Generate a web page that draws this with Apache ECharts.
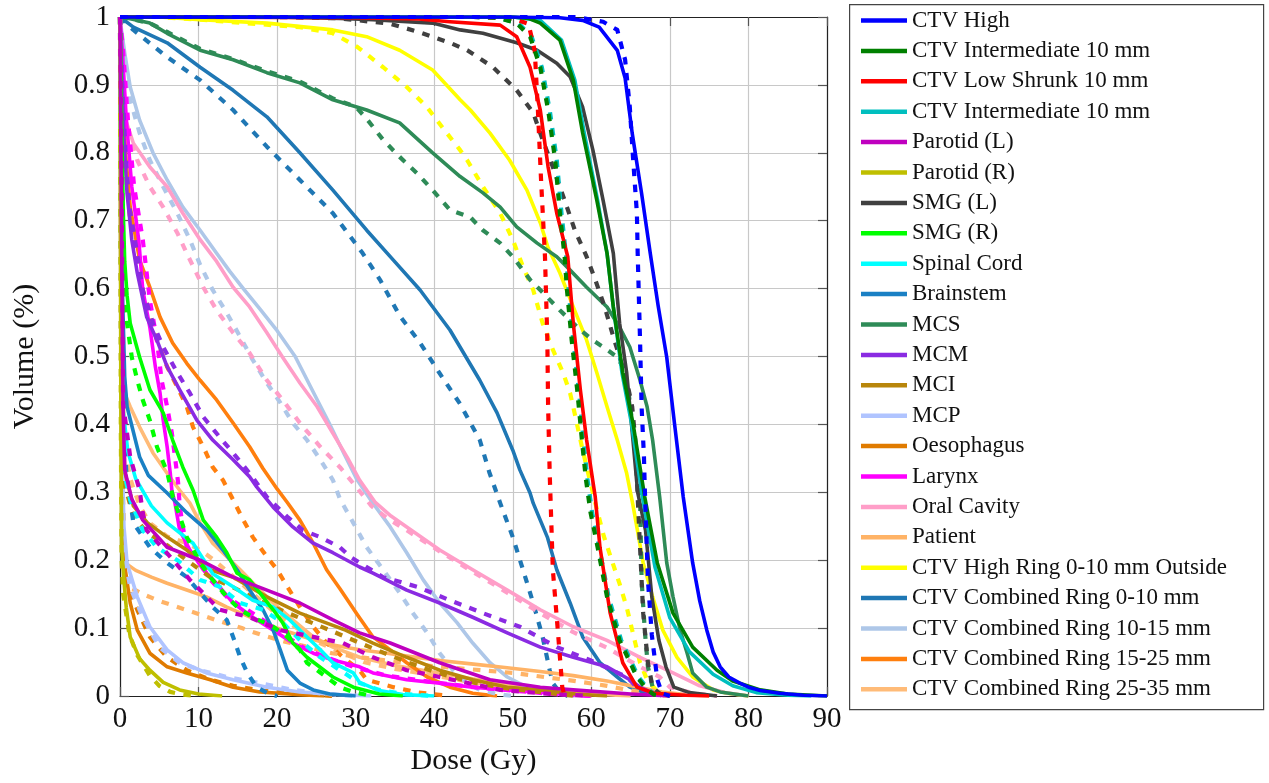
<!DOCTYPE html>
<html>
<head>
<meta charset="utf-8">
<title>Dose–volume histogram</title>
<script src="https://cdn.jsdelivr.net/npm/echarts@6/dist/echarts.min.js"></script>
<style>
  html, body { margin: 0; padding: 0; background: #fff; }
  #chart { width: 1269px; height: 783px; }
</style>
</head>
<body>
<div id="chart"></div>
<script>
// Cumulative DVH curves: [dose (Gy), volume fraction]. Solid = plan A, dashed = plan B.
const xTicks = [0, 10, 20, 30, 40, 50, 60, 70, 80, 90];
const yTicks = [0, 0.1, 0.2, 0.3, 0.4, 0.5, 0.6, 0.7, 0.8, 0.9, 1];

const structureNames = [
  'CTV High', 'CTV Intermediate 10 mm', 'CTV Low Shrunk 10 mm', 'CTV Intermediate 10 mm\u00a0',
  'Parotid (L)', 'Parotid (R)', 'SMG (L)', 'SMG (R)', 'Spinal Cord', 'Brainstem',
  'MCS', 'MCM', 'MCI', 'MCP', 'Oesophagus', 'Larynx', 'Oral Cavity', 'Patient',
  'CTV High Ring 0-10 mm Outside', 'CTV Combined Ring 0-10 mm', 'CTV Combined Ring 10-15 mm',
  'CTV Combined Ring 15-25 mm', 'CTV Combined Ring 25-35 mm'
];

const structureColors = [
  '#0000ff', '#008000', '#ff0000', '#00bfbf',
  '#bf00bf', '#bfbf00', '#404040', '#00ff00', '#00ffff', '#1a80c4',
  '#2e8b57', '#8a2be2', '#b8860b', '#b0c4ff', '#e07b00', '#ff00ff', '#ff9ec8', '#ffb366',
  '#ffff00', '#1f77b4', '#aec7e8', '#ff7f0e', '#ffbb78'
];

const ctvHigh = [[0,1],[50,1],[56,0.999],[58.9,0.995],[61,0.985],[63.3,0.951],[64.3,0.91],[65.2,0.829],[66.4,0.74],[67.5,0.652],[68.5,0.575],[69.6,0.499],[70.6,0.4],[71.7,0.293],[72.9,0.196],[73.8,0.14],[74.7,0.097],[75.5,0.065],[76.4,0.043],[77.5,0.028],[78.9,0.019],[80,0.013],[81.5,0.008],[84,0.004],[87,0.001],[90,0]];
const ctvHighB = [[0,1],[58,1],[61.5,0.993],[63.3,0.981],[64.3,0.937],[64.9,0.867],[65.3,0.794],[65.8,0.711],[65.9,0.652],[66.2,0.524],[66.4,0.426],[66.7,0.352],[66.8,0.308],[67.2,0.171],[67.7,0.09],[68.4,0.024],[69,0.004],[70,0]];

const ctvInt = [[0,1],[50,1],[52,0.998],[53.5,0.991],[56,0.966],[57.7,0.907],[58.9,0.829],[60.7,0.73],[62,0.652],[62.8,0.573],[64,0.476],[65.3,0.402],[66.8,0.293],[68.4,0.196],[70.4,0.122],[72.9,0.072],[76,0.038],[78,0.022],[81.5,0.009],[85,0.003],[90,0]];
const ctvIntB = [[0,1],[45,1],[48,0.999],[50.5,0.991],[52.2,0.971],[53.5,0.926],[54.5,0.863],[55.4,0.789],[56,0.711],[56.6,0.647],[56.9,0.598],[57.5,0.524],[58.2,0.451],[58.8,0.377],[59.3,0.32],[59.9,0.27],[60.8,0.219],[62,0.146],[63.6,0.082],[65.8,0.028],[67.1,0.009],[68,0.002],[69,0]];

const ctvLow = [[0,1],[30,0.999],[38,0.997],[42,0.993],[48.4,0.988],[50.5,0.971],[52.2,0.926],[53.5,0.863],[54.5,0.779],[55.6,0.711],[57,0.647],[57.7,0.549],[58.6,0.451],[59.4,0.377],[60.5,0.293],[61.1,0.219],[62.4,0.122],[64,0.049],[65.8,0.013],[68,0.004],[72,0.001],[75,0]];
const ctvLowB = [[0,1],[45,1],[50,0.998],[52,0.99],[52.8,0.95],[53.2,0.863],[53.6,0.76],[54.1,0.647],[54.4,0.524],[54.5,0.426],[54.7,0.328],[55.1,0.186],[55.8,0.087],[56.3,0.013],[56.6,0]];

const ctvInt2 = [[0,1],[50,1],[53.5,0.995],[56.2,0.966],[57.9,0.907],[59.1,0.829],[60.8,0.73],[62,0.652],[62.8,0.573],[63.9,0.476],[65.1,0.402],[66.5,0.293],[68.1,0.19],[70,0.115],[72.5,0.065],[75.5,0.032],[78,0.015],[81,0.005],[85,0.001],[88,0]];
const ctvInt2B = [[0,1],[45,1],[48.2,0.999],[50.7,0.991],[52.4,0.971],[53.7,0.926],[54.7,0.863],[55.6,0.789],[56.2,0.711],[56.8,0.647],[57.1,0.598],[57.7,0.524],[58.4,0.451],[59,0.377],[59.5,0.32],[60.1,0.27],[61,0.219],[62.2,0.146],[63.8,0.082],[66,0.028],[67.3,0.009],[68.2,0.002],[69.2,0]];

const parotidL = [[0,1],[0.1,0.85],[0.25,0.6],[0.4,0.42],[0.6,0.333],[1.5,0.29],[2.9,0.259],[6,0.219],[10.2,0.2],[14.4,0.175],[18.7,0.156],[22.9,0.137],[27.1,0.112],[30.5,0.093],[34.4,0.078],[40.7,0.049],[47.1,0.024],[53.5,0.013],[57.7,0.009],[65,0.003],[70,0]];
const parotidLB = [[0,1],[0.15,0.85],[0.3,0.6],[0.4,0.43],[1.3,0.352],[2.5,0.303],[2.9,0.27],[3.4,0.244],[6.4,0.205],[8.9,0.171],[12.7,0.127],[16.5,0.116],[20.4,0.097],[24.6,0.087],[28.4,0.078],[32.2,0.057],[36.5,0.038],[40.7,0.028],[48.4,0.009],[54.7,0.003],[60,0]];

const parotidR = [[0,1],[0.1,0.45],[0.2,0.22],[0.5,0.17],[0.8,0.13],[1.3,0.087],[2.5,0.055],[3.8,0.038],[5.5,0.02],[7.6,0.009],[10,0.003],[13,0]];
const parotidRB = [[0,1],[0.1,0.4],[0.2,0.2],[0.4,0.15],[1.2,0.09],[2.2,0.06],[3.8,0.03],[5,0.015],[6.4,0.006],[8,0.002],[10,0]];

const smgL = [[0,1],[20,1],[28,0.998],[32.2,0.996],[39.8,0.991],[43.3,0.981],[46.2,0.976],[50.5,0.962],[53.1,0.951],[55.6,0.932],[57.3,0.912],[58.9,0.867],[60.2,0.804],[61.5,0.73],[62.8,0.652],[63.6,0.549],[64.5,0.476],[65.3,0.377],[65.9,0.3],[66.9,0.244],[67.7,0.146],[68.6,0.082],[69.5,0.043],[70.5,0.013],[72.5,0.005],[76,0]];
const smgLB = [[0,1],[20,1],[28,0.998],[34.4,0.99],[38,0.978],[42,0.962],[44.2,0.951],[47.5,0.926],[50.5,0.892],[52.6,0.859],[53.8,0.819],[55.1,0.779],[56.6,0.73],[57.9,0.686],[59.4,0.647],[60.5,0.613],[61.7,0.573],[62.8,0.529],[63.6,0.499],[64.5,0.465],[65.2,0.426],[65.6,0.377],[65.9,0.293],[66.2,0.219],[66.6,0.122],[67.2,0.049],[67.8,0.013],[69,0]];

const smgR = [[0,1],[0.15,0.9],[0.3,0.78],[0.45,0.7],[0.6,0.64],[0.9,0.59],[1.3,0.549],[2.5,0.499],[3.8,0.451],[5.5,0.417],[6.7,0.377],[8,0.337],[9.3,0.303],[10.6,0.259],[12.3,0.234],[13.6,0.211],[14.9,0.181],[16.5,0.171],[18.2,0.146],[19.5,0.127],[20.7,0.108],[22,0.078],[23.8,0.057],[27.1,0.028],[29.7,0.013],[33,0.003],[36,0]];
const smgRB = [[0,1],[0.15,0.88],[0.3,0.72],[0.5,0.62],[0.9,0.549],[1.5,0.499],[2.2,0.465],[2.9,0.436],[3.8,0.406],[4.7,0.367],[6,0.33],[6.8,0.29],[7.6,0.265],[8.5,0.234],[10.2,0.196],[11.5,0.175],[13.6,0.146],[15.3,0.127],[16.9,0.116],[19.5,0.102],[21.3,0.087],[22.9,0.068],[23.8,0.049],[25.1,0.038],[28,0.013],[29.7,0.006],[32,0]];

const spinalCord = [[0,1],[0.1,0.75],[0.2,0.55],[0.4,0.42],[1,0.36],[2,0.32],[4,0.28],[6,0.255],[9.3,0.225],[11.8,0.18],[14.4,0.161],[16.9,0.141],[19.5,0.131],[21.6,0.112],[23.8,0.087],[25.5,0.068],[27.1,0.049],[29.7,0.034],[30.5,0.02],[33,0.008],[36,0.002],[40,0]];
const spinalCordB = [[0,1],[0.1,0.7],[0.2,0.5],[0.5,0.33],[1.3,0.289],[2.9,0.244],[4.7,0.219],[7.3,0.2],[10.2,0.171],[12.7,0.161],[15.3,0.137],[18.2,0.127],[20.7,0.108],[23.3,0.078],[25.5,0.057],[28,0.038],[30.5,0.019],[33,0.009],[36,0.003],[40,0]];

const brainstem = [[0,1],[0.1,0.8],[0.3,0.6],[0.6,0.47],[0.9,0.426],[2.5,0.352],[3.6,0.325],[6,0.299],[8.5,0.27],[11.1,0.244],[13.1,0.215],[14.9,0.186],[16.5,0.156],[18.2,0.127],[19.5,0.097],[20.4,0.068],[21.3,0.038],[22.9,0.019],[24.6,0.009],[26.7,0.003],[30,0]];
const brainstemB = [[0,1],[0.1,0.78],[0.2,0.6],[0.4,0.42],[0.8,0.33],[1.7,0.255],[3.8,0.219],[6,0.196],[8.5,0.175],[10.2,0.152],[11.8,0.131],[13.6,0.112],[14.4,0.087],[15.3,0.057],[16.2,0.034],[17.4,0.013],[19,0.003],[20,0]];

const mcs = [[0,1],[1,0.998],[3.8,0.991],[6,0.976],[10.2,0.951],[14.4,0.937],[18.7,0.918],[22.9,0.903],[27.1,0.878],[31.4,0.863],[35.6,0.844],[39.8,0.8],[43.3,0.765],[46.2,0.741],[48.4,0.72],[50.5,0.691],[53.1,0.667],[55.6,0.647],[56.9,0.632],[59.4,0.602],[62,0.573],[63.6,0.543],[64.9,0.514],[66.2,0.465],[67.1,0.426],[67.8,0.377],[68.7,0.293],[69.6,0.196],[70.4,0.146],[71.3,0.097],[72.2,0.063],[72.9,0.034],[74.7,0.013],[76.4,0.006],[80,0]];
const mcsB = [[0,1],[1,0.998],[3.8,0.991],[6,0.978],[10.2,0.953],[14.4,0.938],[18.7,0.92],[22.9,0.905],[27.1,0.88],[30,0.868],[31.4,0.85],[33.5,0.819],[35.6,0.794],[37.8,0.77],[39.8,0.745],[42,0.716],[44.6,0.705],[46.2,0.686],[48.4,0.667],[50,0.647],[52.2,0.613],[53.5,0.598],[56,0.568],[58.6,0.539],[60.2,0.524],[62,0.51],[63.3,0.499],[64,0.485],[64.7,0.451],[65.2,0.402],[65.8,0.337],[66.2,0.293],[66.4,0.171],[66.8,0.097],[67.2,0.043],[67.8,0.013],[69,0]];

const mcm = [[0,1],[0.2,0.93],[0.5,0.82],[0.9,0.74],[1.5,0.672],[2.2,0.623],[3.4,0.558],[4.7,0.524],[6,0.485],[7.6,0.451],[9.8,0.406],[11.8,0.377],[14.4,0.348],[16.5,0.323],[17.4,0.308],[19.5,0.278],[22,0.249],[24.6,0.225],[27.1,0.211],[30.5,0.19],[32.2,0.181],[36.5,0.156],[40.7,0.137],[44.9,0.116],[49.3,0.093],[53.5,0.072],[57.7,0.057],[62,0.043],[64.9,0.024],[66.2,0.013],[67.5,0.006],[70,0]];
const mcmB = [[0,1],[0.3,0.9],[0.7,0.8],[1.2,0.72],[1.9,0.672],[2.9,0.598],[4.2,0.549],[5.5,0.514],[7.3,0.476],[8.9,0.446],[10.6,0.411],[12.7,0.381],[14.4,0.358],[16.5,0.328],[18.7,0.293],[21.3,0.264],[23.3,0.244],[25.5,0.234],[28,0.219],[29.3,0.205],[33.5,0.175],[37.8,0.161],[42,0.141],[46.2,0.122],[50.9,0.102],[55.6,0.072],[59.8,0.053],[64.5,0.028],[65.8,0.013],[68,0.003],[70,0]];

const mci = [[0,1],[0.15,0.75],[0.3,0.5],[0.6,0.33],[1.7,0.28],[3.5,0.255],[6,0.234],[8.5,0.215],[11.5,0.186],[14.4,0.175],[18.7,0.146],[22.9,0.122],[27.1,0.104],[28.5,0.098],[32.2,0.078],[36.5,0.057],[40.7,0.038],[44.9,0.024],[49.3,0.013],[53.5,0.009],[58,0.003],[62,0]];
const mciB = [[0,1],[0.15,0.7],[0.3,0.47],[0.6,0.31],[1.7,0.265],[3.5,0.24],[6,0.222],[8.5,0.2],[11.5,0.175],[14.4,0.16],[18.7,0.135],[22.9,0.115],[27.1,0.095],[32.2,0.07],[36.5,0.05],[40.7,0.033],[44.9,0.02],[49.3,0.011],[54,0.005],[58,0]];

const mcp = [[0,1],[0.1,0.6],[0.2,0.4],[0.5,0.25],[0.9,0.196],[2.2,0.146],[3.8,0.102],[6,0.068],[8,0.049],[11,0.034],[14.4,0.024],[18.7,0.013],[22.9,0.006],[28,0.002],[32,0]];
const mcpB = [[0,1],[0.1,0.55],[0.2,0.35],[0.4,0.22],[1.3,0.16],[2.9,0.116],[5,0.072],[7.6,0.049],[10.2,0.038],[13.6,0.028],[17.8,0.019],[22,0.009],[26,0.003],[30,0]];

const oesophagus = [[0,1],[0.1,0.6],[0.2,0.35],[0.5,0.2],[1.3,0.137],[2.2,0.097],[3.8,0.063],[6,0.043],[8.5,0.034],[11.5,0.024],[14.4,0.013],[17.8,0.006],[22.9,0.002],[26,0]];
const oesophagusB = [[0,1],[0.1,0.65],[0.2,0.4],[0.5,0.22],[0.9,0.166],[2.2,0.127],[3.8,0.087],[6,0.057],[8.5,0.038],[11.5,0.024],[14.4,0.015],[18,0.008],[22,0.004],[27,0]];

const larynx = [[0,1],[0.3,0.95],[0.8,0.85],[1.5,0.75],[2.4,0.67],[2.9,0.598],[3.8,0.543],[4.5,0.485],[5.1,0.446],[5.5,0.406],[6,0.367],[6.4,0.328],[6.6,0.303],[7,0.284],[7.6,0.244],[8.9,0.215],[10.6,0.186],[12.3,0.166],[14.4,0.137],[16.9,0.116],[19.5,0.097],[22,0.078],[24.6,0.063],[27.1,0.053],[30.5,0.043],[32.2,0.034],[36.5,0.024],[40.7,0.019],[44.9,0.013],[49.3,0.009],[55,0.004],[60,0]];
const larynxB = [[0,1],[0.4,0.95],[1,0.85],[1.8,0.75],[2.9,0.672],[3.8,0.583],[4.7,0.524],[5.3,0.465],[6,0.426],[6.6,0.387],[7,0.352],[7.4,0.314],[7.6,0.28],[8,0.249],[8.5,0.219],[10.2,0.196],[11.5,0.171],[13.6,0.146],[16.2,0.127],[18.7,0.108],[21.3,0.087],[23.8,0.068],[26.3,0.057],[29.7,0.043],[34,0.03],[40,0.02],[45,0.013],[50,0.008],[55,0.003],[60,0]];

const oralCavity = [[0,1],[0.2,0.95],[0.4,0.88],[0.6,0.853],[1.7,0.814],[3.8,0.779],[6,0.75],[8,0.711],[10.2,0.672],[12.3,0.64],[14.4,0.602],[16.5,0.573],[18.7,0.535],[20.7,0.499],[22.9,0.461],[25.1,0.426],[27.1,0.387],[29,0.35],[30.5,0.318],[32.5,0.285],[34.5,0.265],[36.5,0.249],[40.7,0.215],[44.9,0.186],[49.3,0.156],[53.5,0.127],[57.7,0.102],[62,0.082],[66.2,0.057],[70.4,0.034],[73.8,0.015],[77,0.005],[80,0]];
const oralCavityB = [[0,1],[0.2,0.93],[0.5,0.86],[0.9,0.838],[2.2,0.789],[3.8,0.75],[5.5,0.72],[7.3,0.682],[8.5,0.652],[10.6,0.602],[12.3,0.568],[14.4,0.535],[16.5,0.505],[18.7,0.465],[20.7,0.436],[22.9,0.402],[25.5,0.367],[28,0.337],[30.2,0.306],[32,0.28],[34,0.262],[36.5,0.244],[40.7,0.213],[44.9,0.183],[49.3,0.152],[53.5,0.122],[57.7,0.094],[62,0.071],[66.2,0.043],[68.7,0.028],[70,0.013],[73,0.004],[76,0]];

const patient = [[0,1],[0.2,0.55],[0.4,0.21],[0.8,0.195],[2,0.185],[4,0.175],[6,0.166],[8.5,0.156],[11,0.146],[13.6,0.131],[16.2,0.118],[18.7,0.105],[21.3,0.095],[24,0.085],[27.1,0.075],[30.5,0.068],[34,0.063],[37,0.058],[41,0.052],[45,0.047],[49,0.042],[53.5,0.036],[57.7,0.03],[62,0.022],[66,0.013],[69,0.006],[72,0.002],[75,0]];
const patientB = [[0,1],[0.2,0.5],[0.4,0.17],[1.3,0.16],[2.9,0.15],[5,0.14],[7.6,0.13],[10.2,0.12],[12.7,0.11],[15.5,0.1],[18,0.09],[21,0.08],[24,0.072],[27,0.063],[30,0.058],[34,0.052],[38,0.046],[42,0.042],[46,0.038],[50,0.034],[54,0.028],[58,0.022],[62,0.015],[65,0.008],[68,0.003],[70,0]];

const highRing = [[0,1],[5,1],[10.2,0.996],[18.7,0.991],[27.1,0.981],[31.4,0.971],[35.6,0.951],[39.8,0.922],[43.3,0.878],[44.6,0.863],[47.1,0.829],[49.6,0.789],[51.8,0.745],[53.5,0.697],[54.5,0.66],[56,0.623],[57.7,0.573],[59.4,0.524],[60.7,0.476],[62,0.426],[63.3,0.377],[64.5,0.328],[65.3,0.281],[66.6,0.196],[67.8,0.146],[69.1,0.097],[70.9,0.057],[72.9,0.028],[75.5,0.009],[77.3,0.004],[80,0]];
const highRingB = [[0,1],[5,1],[10.2,0.996],[22.9,0.985],[27.1,0.976],[30.2,0.956],[33.5,0.926],[36.5,0.897],[39.1,0.867],[41.6,0.829],[43.3,0.804],[44.2,0.789],[46.2,0.75],[48.4,0.711],[50,0.672],[51.3,0.632],[52.6,0.598],[53.8,0.549],[55.1,0.51],[56.4,0.476],[57.3,0.446],[58,0.41],[58.8,0.367],[59.6,0.328],[60.6,0.28],[61.6,0.235],[62.6,0.2],[63.6,0.165],[64.5,0.131],[65.2,0.097],[66.2,0.049],[67.1,0.024],[68.5,0.005],[70,0]];

const ring0to10 = [[0,1],[1.7,0.985],[6,0.962],[10.2,0.926],[14.4,0.892],[18.7,0.853],[22.9,0.8],[27.1,0.745],[31.4,0.686],[34.8,0.642],[38.2,0.598],[42,0.539],[45.8,0.465],[48,0.417],[50,0.362],[50.9,0.333],[52.2,0.299],[52.6,0.284],[54.4,0.234],[55.6,0.186],[57.3,0.137],[58.9,0.087],[61.1,0.049],[63.3,0.028],[64.9,0.013],[67,0.004],[70,0]];
const ring0to10B = [[0,1],[1.7,0.981],[6,0.941],[10.2,0.907],[14.4,0.863],[18.7,0.809],[22.9,0.76],[27.1,0.711],[30.9,0.652],[33.1,0.613],[35.6,0.56],[38.2,0.52],[40.7,0.475],[43.3,0.43],[45.8,0.377],[47,0.33],[48.4,0.284],[50,0.234],[51.3,0.186],[52.6,0.137],[53.8,0.087],[54.7,0.038],[55.1,0.019],[56,0.005],[57,0]];

const ring10to15 = [[0,1],[0.2,0.98],[0.6,0.947],[1.3,0.897],[2.5,0.848],[4.2,0.8],[6,0.76],[8,0.72],[10.2,0.686],[12.3,0.652],[14,0.625],[15.7,0.6],[17.8,0.57],[20,0.538],[22.3,0.5],[24.5,0.45],[26.7,0.4],[28.6,0.355],[30.2,0.318],[32.2,0.284],[34.4,0.249],[36.5,0.211],[38.6,0.171],[40.7,0.137],[42.9,0.108],[44.9,0.078],[47.1,0.049],[49.3,0.028],[51.8,0.013],[55,0.004],[58,0]];
const ring10to15B = [[0,1],[0.2,0.97],[0.6,0.926],[1.3,0.878],[2.5,0.829],[3.8,0.789],[5.5,0.75],[7.3,0.711],[8.9,0.672],[10.2,0.635],[11.8,0.598],[13.6,0.564],[15.3,0.529],[16.9,0.495],[18.7,0.461],[20.4,0.432],[22,0.402],[23.8,0.377],[25.5,0.348],[27.1,0.318],[28,0.29],[29.7,0.255],[31.4,0.219],[33.5,0.186],[35.6,0.152],[37.3,0.122],[39.1,0.093],[40.7,0.063],[42.4,0.038],[44.2,0.019],[45.8,0.009],[48,0.003],[50,0]];

const ring15to25 = [[0,1],[0.3,0.92],[0.7,0.8],[1.3,0.72],[2.5,0.642],[3.8,0.602],[5.1,0.558],[6.7,0.52],[8.5,0.49],[10.2,0.465],[12.3,0.436],[14.4,0.402],[16.5,0.367],[18.2,0.335],[20,0.305],[21.3,0.285],[22.9,0.259],[24.6,0.225],[26.3,0.186],[28,0.158],[30.2,0.12],[32.2,0.087],[34.4,0.068],[36.5,0.049],[39.1,0.028],[42,0.013],[44.9,0.004],[48,0]];
const ring15to25B = [[0,1],[0.3,0.9],[0.6,0.8],[1.3,0.7],[2,0.66],[2.9,0.598],[4.7,0.524],[6,0.485],[7.3,0.455],[8.5,0.426],[9.3,0.396],[10.6,0.367],[11.8,0.337],[13.1,0.318],[14.4,0.289],[15.7,0.259],[16.9,0.234],[18.7,0.205],[20,0.186],[21.3,0.161],[22.9,0.131],[24.6,0.102],[26.3,0.078],[28.4,0.057],[30.5,0.038],[31.4,0.024],[34.8,0.013],[38,0.005],[42,0]];

const ring25to35 = [[0,1],[0.2,0.7],[0.4,0.46],[0.8,0.44],[1.3,0.426],[2.5,0.396],[4.2,0.358],[6,0.328],[7.6,0.303],[8.9,0.284],[10.2,0.255],[11.8,0.225],[13.6,0.205],[15.3,0.186],[17.4,0.161],[19.5,0.137],[22,0.112],[24.6,0.087],[27.1,0.072],[30.5,0.057],[35,0.045],[40,0.035],[45,0.025],[50,0.016],[55,0.008],[60,0.003],[65,0]];
const ring25to35B = [[0,1],[0.2,0.6],[0.4,0.38],[1.3,0.32],[2.5,0.28],[3.8,0.255],[6,0.235],[8.5,0.225],[10.2,0.215],[12,0.2],[14,0.18],[16,0.16],[18,0.14],[20,0.12],[22.5,0.1],[25,0.08],[28,0.065],[31,0.05],[35,0.04],[40,0.03],[45,0.02],[50,0.012],[55,0.005],[60,0]];

const solidCurves = [ctvHigh, ctvInt, ctvLow, ctvInt2, parotidL, parotidR, smgL, smgR, spinalCord, brainstem,
  mcs, mcm, mci, mcp, oesophagus, larynx, oralCavity, patient, highRing, ring0to10, ring10to15, ring15to25, ring25to35];
const dashedCurves = [ctvHighB, ctvIntB, ctvLowB, ctvInt2B, parotidLB, parotidRB, smgLB, smgRB, spinalCordB, brainstemB,
  mcsB, mcmB, mciB, mcpB, oesophagusB, larynxB, oralCavityB, patientB, highRingB, ring0to10B, ring10to15B, ring15to25B, ring25to35B];

const FONT = '"Liberation Serif", "DejaVu Serif", serif';

// Draw from the last structure to the first so the targets sit on top.
const series = [];
for (let i = structureNames.length - 1; i >= 0; i--) {
  const base = {
    type: 'line', symbol: 'none', showSymbol: false, smooth: false,
    xAxisIndex: 0, yAxisIndex: 0, silent: true
  };
  series.push(Object.assign({}, base, {
    name: structureNames[i],
    data: solidCurves[i],
    lineStyle: { color: structureColors[i], width: 3.6, type: 'solid', cap: 'butt', join: 'round' },
    itemStyle: { color: structureColors[i] }
  }));
  series.push(Object.assign({}, base, {
    name: structureNames[i] + ' (dashed)',
    data: dashedCurves[i],
    lineStyle: { color: structureColors[i], width: 4.2, type: [7.5, 8.5], cap: 'butt', join: 'round' },
    itemStyle: { color: structureColors[i] }
  }));
}

const axisCommon = {
  type: 'value',
  axisLine: { show: true, onZero: false, lineStyle: { color: '#222', width: 1.2 } },
  axisTick: { show: true, inside: true, length: 9, lineStyle: { color: '#555', width: 1.2 } }
};

const chart = echarts.init(document.getElementById('chart'), null, { renderer: 'canvas' });
chart.setOption({
  animation: false,
  backgroundColor: '#ffffff',
  grid: { left: 120, right: 442, top: 17, bottom: 87, containLabel: false },
  xAxis: [
    Object.assign({}, axisCommon, {
      min: xTicks[0], max: xTicks[xTicks.length - 1], interval: xTicks[1] - xTicks[0],
      name: 'Dose (Gy)', nameLocation: 'middle', nameGap: 50,
      nameTextStyle: { fontFamily: FONT, fontSize: 30, color: '#111' },
      axisLabel: { show: true, margin: 9, fontFamily: FONT, fontSize: 29, color: '#111' },
      splitLine: { show: true, lineStyle: { color: '#c8c8c8', width: 1.2 } }
    }),
    Object.assign({}, axisCommon, {
      position: 'top', min: xTicks[0], max: xTicks[xTicks.length - 1], interval: xTicks[1] - xTicks[0],
      axisLabel: { show: false }, splitLine: { show: false }
    })
  ],
  yAxis: [
    Object.assign({}, axisCommon, {
      min: yTicks[0], max: yTicks[yTicks.length - 1], interval: 0.1,
      name: 'Volume (%)', nameLocation: 'middle', nameGap: 80, nameRotate: 90,
      nameTextStyle: { fontFamily: FONT, fontSize: 30, color: '#111' },
      axisLabel: { show: true, margin: 10, fontFamily: FONT, fontSize: 29, color: '#111',
        formatter: v => String(Math.round(v * 10) / 10) },
      splitLine: { show: true, lineStyle: { color: '#c8c8c8', width: 1.2 } }
    }),
    Object.assign({}, axisCommon, {
      position: 'right', min: yTicks[0], max: yTicks[yTicks.length - 1], interval: 0.1,
      axisLabel: { show: false }, splitLine: { show: false }
    })
  ],
  legend: {
    show: true,
    orient: 'vertical',
    left: 861, top: 9,
    padding: 0,
    icon: 'rect',
    itemWidth: 46, itemHeight: 4.5, itemGap: 7.4,
    data: structureNames,
    textStyle: { fontFamily: FONT, fontSize: 23, color: '#111' },
    selectedMode: false
  },
  graphic: [{
    type: 'rect', left: 849, top: 4, z: -10,
    shape: { width: 414, height: 705 },
    style: { fill: '#ffffff', stroke: '#444', lineWidth: 1.2 }
  }],
  series: series
});
</script>
</body>
</html>
